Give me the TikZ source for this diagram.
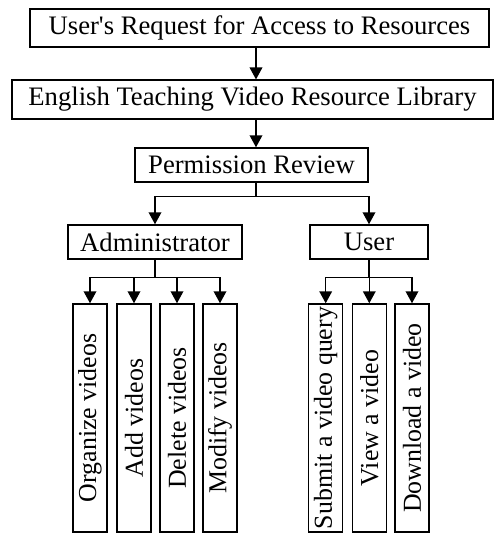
\documentclass[tikz,border=0pt]{standalone}
\usepackage{fontspec}
\setmainfont[Ligatures=TeXOff]{Liberation Serif}
\usetikzlibrary{arrows.meta,calc}
\begin{document}
\begin{tikzpicture}[x=0.75pt,y=-0.75pt,
  box/.style={draw,line width=1.1pt,inner sep=0pt,font=\fontsize{20}{24}\selectfont},
  leaf/.style={box,minimum width=25.5pt,minimum height=171pt,font=\fontsize{19.4}{23}\selectfont},
  arr/.style={line width=1.1pt,-{Triangle[length=9pt,width=9.5pt]}},
  ln/.style={line width=1.1pt}]
\useasboundingbox (0,0) rectangle (494,533);
\coordinate (spine) at (256,0);
\node[box,minimum width=344pt,minimum height=28.5pt] (req) at (259.5,28) {User's Request for Access to Resources};
\node[box,minimum width=360.5pt,minimum height=29pt] (lib) at (252.5,99.5) {English Teaching Video Resource Library};
\node[box,minimum width=175pt,minimum height=25.5pt] (perm) at (251.5,165) {Permission Review};
\node[box,minimum width=130.5pt,minimum height=25.5pt] (admin) at (155,242) {Administrator};
\node[box,minimum width=88.5pt,minimum height=25.5pt] (user) at (369,242) {User};
\node[leaf] (a1) at (90,418) {\rotatebox{90}{Organize videos}};
\node[leaf] (a2) at (134,418) {\rotatebox{90}{Add videos}};
\node[leaf] (a3) at (177,418) {\rotatebox{90}{Delete videos}};
\node[leaf] (a4) at (220,418) {\rotatebox{90}{Modify videos}};
\node[leaf] (u1) at (325.7,418) {\rotatebox{90}{Submit a video query}};
\node[leaf] (u2) at (369.3,418) {\rotatebox{90}{View a video}};
\node[leaf] (u3) at (412,418) {\rotatebox{90}{Download a video}};
\draw[arr] (req.south -| spine) -- (lib.north -| spine);
\draw[arr] (lib.south -| spine) -- (perm.north -| spine);
% permission to roles
\coordinate (pj) at ($(perm.south -| spine)+(0,14)$);
\draw[ln] (perm.south -| spine) -- (pj);
\draw[arr] (pj) -| (admin.north);
\draw[arr] (pj) -| (user.north);
% admin to leaves
\coordinate (aj) at ($(admin.south)+(0,18)$);
\draw[ln] (admin.south) -- (aj);
\draw[arr] (aj) -| (a1.north);
\draw[arr] (aj -| a2.north) -- (a2.north);
\draw[arr] (aj -| a3.north) -- (a3.north);
\draw[arr] (aj) -| (a4.north);
% user to leaves
\coordinate (uj) at ($(user.south)+(0,18)$);
\draw[ln] (user.south) -- (uj);
\draw[arr] (uj) -| (u1.north);
\draw[arr] (uj -| u2.north) -- (u2.north);
\draw[arr] (uj) -| (u3.north);
\end{tikzpicture}
\end{document}
